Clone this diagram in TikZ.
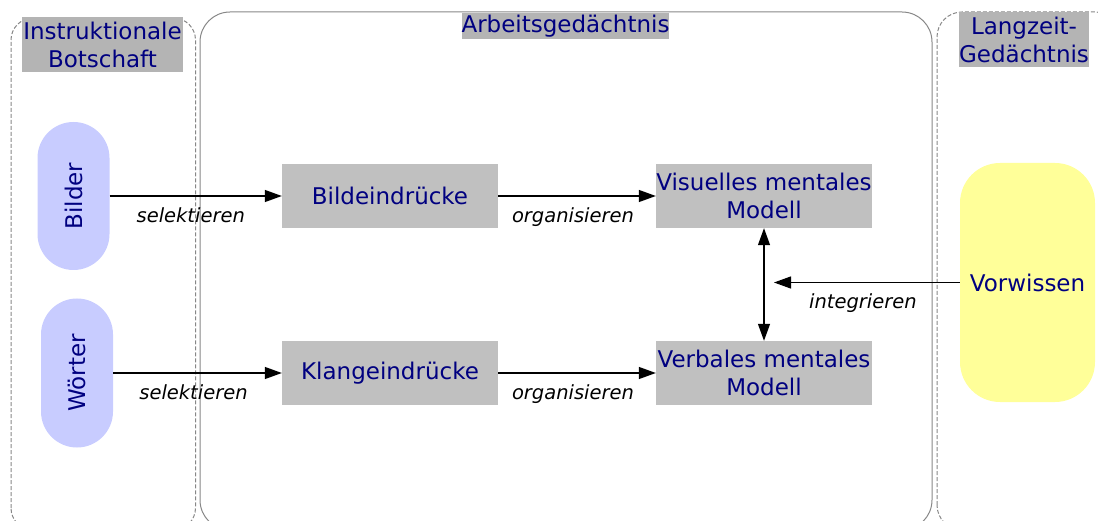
\documentclass[tikz,border=0pt]{standalone}
\usepackage{fontspec}
\setmainfont{DejaVu Sans}
\usetikzlibrary{arrows.meta}
\definecolor{navytext}{RGB}{0,0,128}
\definecolor{titlegray}{RGB}{180,180,180}
\definecolor{boxgray}{RGB}{192,192,192}
\definecolor{blobblue}{RGB}{200,204,255}
\definecolor{knowyellow}{RGB}{255,255,153}
\definecolor{framegray}{RGB}{135,135,135}
\tikzset{
  x=1pt, y=1pt,
  bigtext/.style={font=\fontsize{23}{28}\selectfont, text=navytext, align=center, inner sep=0pt},
  title/.style={bigtext, fill=titlegray},
  stage/.style={bigtext, fill=boxgray, minimum width=216, minimum height=64},
  source/.style={bigtext, fill=blobblue, minimum width=72, minimum height=148, rounded corners=36},
  memory/.style={bigtext, fill=knowyellow, minimum width=135, minimum height=239, rounded corners=40},
  panel/.style={draw=framegray, line width=1pt},
  dashpanel/.style={panel, dash pattern=on 4pt off 2pt},
  tip/.tip={Triangle[length=17pt,width=12pt]},
  flow/.style={draw, line width=1.2pt, -tip},
  both/.style={draw, line width=1.2pt, tip-tip},
  verb/.style={font=\fontsize{19.5}{23}\selectfont\itshape, text=black, inner sep=0pt}
}
\begin{document}
\begin{tikzpicture}
\useasboundingbox (0,0) rectangle (1098,520);
\clip (0,0) rectangle (1098,520);

% the three memory stores
\draw[dashpanel, rounded corners=22] (11,-10) rectangle (195.5,502);
\draw[panel, rounded corners=30] (200,-10) rectangle (932,508);
\draw[dashpanel, rounded corners=25] (937,-10) rectangle (1120,508);

% headings
\node[title, minimum width=161, minimum height=55] (tInstr) at (102.5,475.5) {Instruktionale\\Botschaft};
\node[title, minimum width=205, minimum height=26] (tArb) at (565.5,494) {Arbeitsgedächtnis};
\node[title, minimum width=128, minimum height=55] (tLang) at (1024,480.5) {Langzeit-\\Gedächtnis};

% presented material
\node[source] (bilder) at (73.5,324) {\rotatebox{90}{Bilder}};
\node[source, minimum height=149] (woerter) at (77,147) {\rotatebox{90}{Wörter}};

% processing stages
\node[stage] (bild) at (390,324) {Bildeindrücke};
\node[stage] (klang) at (390,147) {Klangeindrücke};
\node[stage] (visuell) at (764,324) {Visuelles mentales\\Modell};
\node[stage] (verbal) at (764,147) {Verbales mentales\\Modell};

% prior knowledge
\node[memory] (vorwissen) at (1027.5,237.5) {Vorwissen};
\coordinate (join) at (774,237.5);

% connectors
\path[flow] (bilder.east) -- node[verb, below=11pt, xshift=-5pt] {selektieren} (bild.west);
\path[flow] (woerter.east) -- node[verb, below=11pt, xshift=-4pt] {selektieren} (klang.west);
\path[flow] (bild.east) -- node[verb, below=11pt, xshift=-4pt] {organisieren} (visuell.west);
\path[flow] (klang.east) -- node[verb, below=11pt, xshift=-4pt] {organisieren} (verbal.west);
\path[both] (visuell.south) -- (verbal.north);
\path[flow] (vorwissen.west) -- node[verb, below=11pt, xshift=-4pt] {integrieren} (join);
\end{tikzpicture}
\end{document}
